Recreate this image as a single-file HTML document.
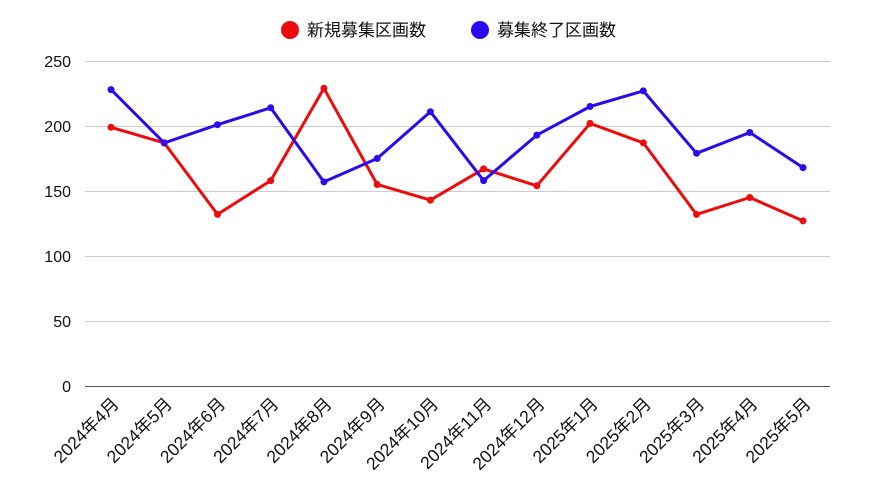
<!DOCTYPE html>
<html><head><meta charset="utf-8"><style>html,body{margin:0;padding:0;background:#fff}svg{display:block}text{font-family:"Liberation Sans","Noto Sans CJK JP",sans-serif;fill:#111}</style></head><body>
<svg width="872" height="490" viewBox="0 0 872 490" xmlns="http://www.w3.org/2000/svg">
<circle cx="290" cy="30" r="9" fill="#ee0b0b"/>
<text x="307" y="36" font-size="17">新規募集区画数</text>
<circle cx="480" cy="30" r="9" fill="#2a0bee"/>
<text x="497" y="36" font-size="17">募集終了区画数</text>
<g stroke="#cccccc" stroke-width="1">
<line x1="85" x2="830" y1="61.5" y2="61.5"/>
<line x1="85" x2="830" y1="126.5" y2="126.5"/>
<line x1="85" x2="830" y1="191.5" y2="191.5"/>
<line x1="85" x2="830" y1="256.5" y2="256.5"/>
<line x1="85" x2="830" y1="321.5" y2="321.5"/>
</g>
<line x1="85" x2="830" y1="386.5" y2="386.5" stroke="#555" stroke-width="1"/>
<g font-size="16" text-anchor="end">
<text x="71" y="67">250</text><text x="71" y="132">200</text><text x="71" y="197">150</text>
<text x="71" y="262">100</text><text x="71" y="327">50</text><text x="71" y="392">0</text>
</g>
<g id="labels" font-size="17.5" text-anchor="end"></g>
<polyline id="red" fill="none" stroke="#ee0b0b" stroke-width="3" stroke-linejoin="round"/>
<polyline id="blue" fill="none" stroke="#2a0bee" stroke-width="3" stroke-linejoin="round"/>
<g id="dots"></g>
</svg>
<script>
var r=[199,187,132,158,229,155,143,167,154,202,187,132,145,127];
var b=[228,187,201,214,157,175,211,158,193,215,227,179,195,168];
var L=["2024年4月","2024年5月","2024年6月","2024年7月","2024年8月","2024年9月","2024年10月","2024年11月","2024年12月","2025年1月","2025年2月","2025年3月","2025年4月","2025年5月"];
var ns="http://www.w3.org/2000/svg";
function X(i){return 111+i*(692/13);}function Y(v){return 386-v*1.3;}
function pts(a){return a.map(function(v,i){return X(i).toFixed(1)+","+Y(v).toFixed(1)}).join(" ");}
document.getElementById("red").setAttribute("points",pts(r));
document.getElementById("blue").setAttribute("points",pts(b));
var d=document.getElementById("dots"),lg=document.getElementById("labels");
[[r,"#ee0b0b"],[b,"#2a0bee"]].forEach(function(s){s[0].forEach(function(v,i){var c=document.createElementNS(ns,"circle");c.setAttribute("cx",X(i));c.setAttribute("cy",Y(v));c.setAttribute("r",3.5);c.setAttribute("fill",s[1]);d.appendChild(c);});});
L.forEach(function(t,i){var e=document.createElementNS(ns,"text");var x=X(i)+9,y=405;e.setAttribute("x",x);e.setAttribute("y",y);e.setAttribute("transform","rotate(-45 "+x+" "+y+")");e.textContent=t;lg.appendChild(e);});
</script>
</body></html>
